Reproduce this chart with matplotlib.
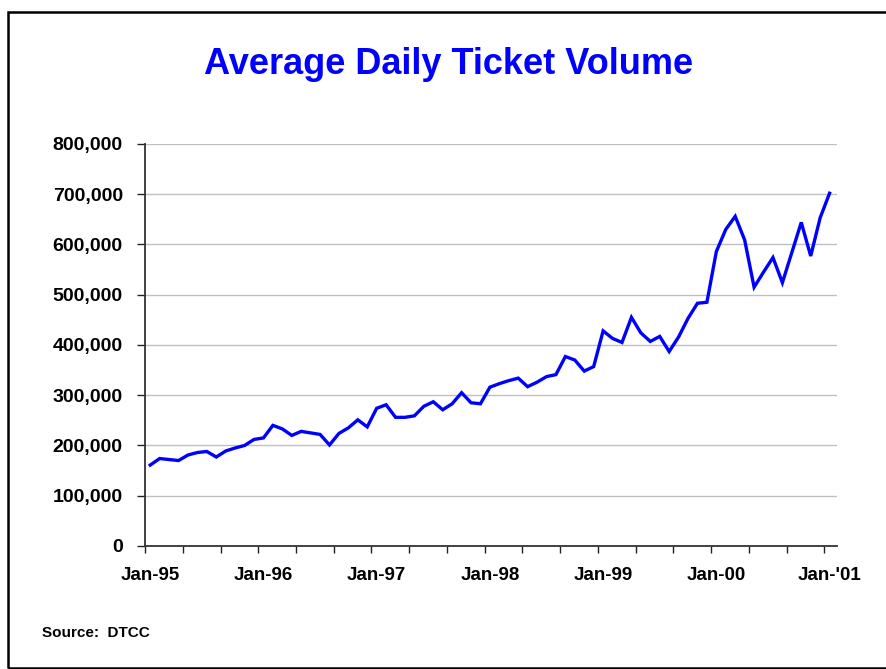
import matplotlib.pyplot as plt
from matplotlib.patches import Rectangle
from matplotlib.ticker import FuncFormatter

# Average daily ticket volume, monthly Jan-95 .. Jan-01
volume = [161000, 174000, 172000, 170000, 181000, 186000, 188000, 177000, 189000, 195000,
          200000, 212000, 215000, 240000, 233000, 220000, 228000, 225000, 222000, 201000,
          224000, 235000, 251000, 237000, 274000, 281000, 256000, 256000, 259000, 278000,
          287000, 271000, 283000, 305000, 285000, 283000, 316000, 323000, 329000, 334000,
          317000, 326000, 337000, 341000, 377000, 370000, 348000, 357000, 428000, 413000,
          405000, 455000, 424000, 407000, 417000, 387000, 416000, 453000, 483000, 485000,
          586000, 630000, 656000, 609000, 515000, 545000, 574000, 524000, 584000, 644000,
          577000, 653000, 702000]
year_labels = ['Jan-95', 'Jan-96', 'Jan-97', 'Jan-98', 'Jan-99', 'Jan-00', "Jan-'01"]
y_ticks = [0, 100000, 200000, 300000, 400000, 500000, 600000, 700000, 800000]

plt.rcParams['font.family'] = ['Liberation Sans', 'DejaVu Sans']
plt.rcParams['font.weight'] = 'bold'

fig = plt.figure(figsize=(8.86, 6.69), dpi=100)
ax = fig.add_axes([0.1637, 0.1839, 0.7806, 0.6009])

# each month's point sits half a unit to the right of its tick
months = [i + 0.55 for i in range(len(volume))]
ax.plot(months, volume, color='#0000ff', lw=2.4, solid_joinstyle='miter', zorder=3)

ax.set_xlim(0, 73.3)
ax.set_ylim(0, 800000)
ax.set_yticks(y_ticks)
ax.yaxis.set_major_formatter(FuncFormatter(lambda v, p: f'{int(v):,}'))
ax.grid(axis='y', color='#c0c0c0', lw=1.0)
ax.set_axisbelow(True)

# tick marks every 4 months, year labels on the January points
ax.set_xticks(range(0, 73, 4))
ax.set_xticklabels([])
ax.set_xticks([m + 0.55 for m in range(0, 73, 12)], minor=True)
ax.set_xticklabels(year_labels, minor=True, fontsize=13.5)
ax.tick_params(axis='x', which='major', direction='out', length=5, width=1.0, color='#222222')
ax.tick_params(axis='x', which='minor', length=0, pad=15)
ax.tick_params(axis='y', direction='out', length=6, width=1.0, color='#222222', pad=10, labelsize=14)

for side in ['top', 'right']:
    ax.spines[side].set_visible(False)
for side in ['left', 'bottom']:
    ax.spines[side].set_color('#333333')
    ax.spines[side].set_linewidth(1.3)

fig.text(0.506, 0.889, 'Average Daily Ticket Volume', ha='center', va='baseline',
         color='#0000ff', fontsize=26, fontweight='bold')
fig.text(0.047, 0.048, 'Source:  DTCC', ha='left', va='baseline',
         fontsize=11, fontweight='bold')

# outer frame around the chart
fig.add_artist(Rectangle((0.0095, 0.0015), 1.1, 0.9805, transform=fig.transFigure,
                         fill=False, edgecolor='black', lw=1.8))

fig.savefig('out.png', dpi=100)
